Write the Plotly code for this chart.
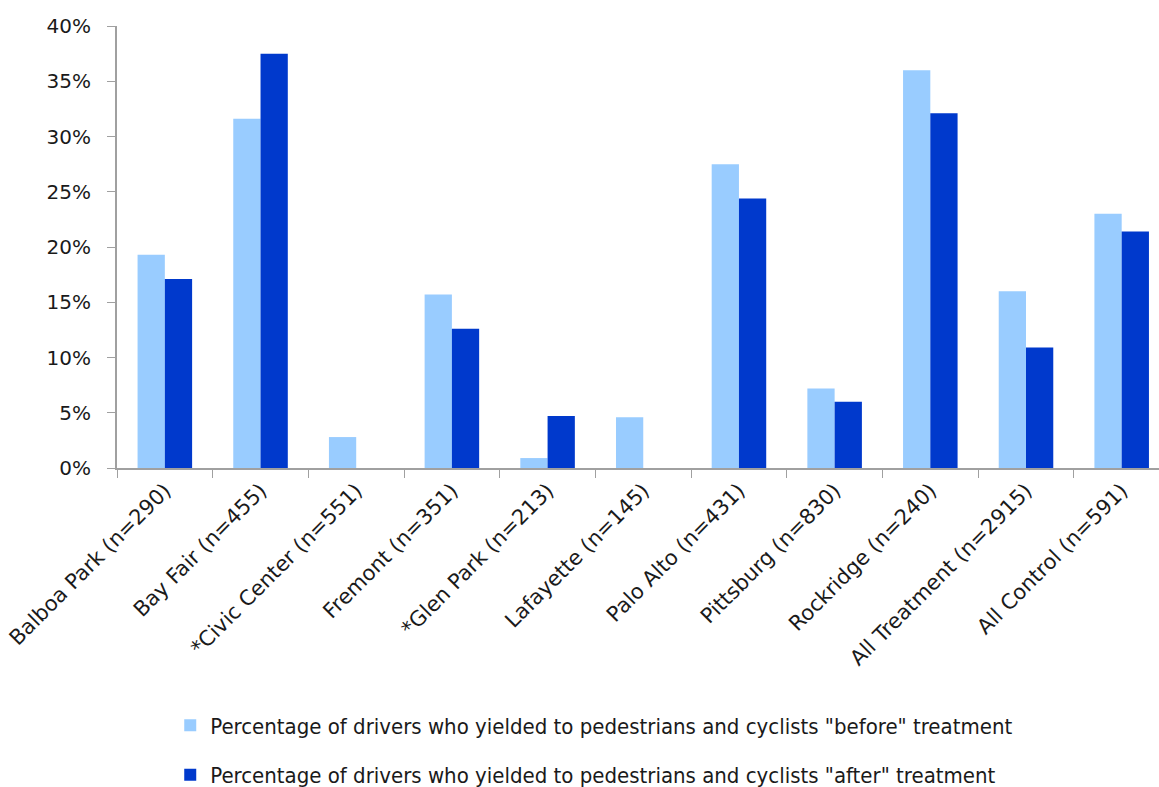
import plotly.graph_objects as go

stations = [
    "Balboa Park (n=290)", "Bay Fair (n=455)", "*Civic Center (n=551)",
    "Fremont (n=351)", "*Glen Park (n=213)", "Lafayette (n=145)",
    "Palo Alto (n=431)", "Pittsburg (n=830)", "Rockridge (n=240)",
    "All Treatment (n=2915)", "All Control (n=591)",
]
before = [0.193, 0.316, 0.028, 0.157, 0.009, 0.046, 0.275, 0.072, 0.360, 0.160, 0.230]
after = [0.171, 0.375, 0.0, 0.126, 0.047, 0.0, 0.244, 0.060, 0.321, 0.109, 0.214]
y_ticks = [0, 0.05, 0.10, 0.15, 0.20, 0.25, 0.30, 0.35, 0.40]

before_name = 'Percentage of drivers who yielded to pedestrians and cyclists "before" treatment'
after_name = 'Percentage of drivers who yielded to pedestrians and cyclists "after" treatment'

fig = go.Figure()
fig.add_trace(go.Bar(x=stations, y=before, name=before_name, legendgroup="b",
                     marker=dict(color="#99CCFF", line=dict(width=0))))
fig.add_trace(go.Bar(x=stations, y=after, name=after_name, legendgroup="a",
                     marker=dict(color="#0039CC", line=dict(width=0))))

axis_gray = "#A0A0A0"
narrow = "DejaVu Sans Condensed, Roboto Condensed, Liberation Sans Narrow, Roboto"
fig.update_layout(
    width=1159, height=787,
    margin=dict(l=117, r=0, t=26, b=319, autoexpand=False),
    paper_bgcolor="white", plot_bgcolor="white",
    barmode="group", bargap=0.43, bargroupgap=0,
    font=dict(family="DejaVu Sans", size=20, color="#1a1a1a"),
    showlegend=True,
    legend=dict(
        orientation="v", x=0.458, xanchor="center", y=-0.535, yanchor="top",
        font=dict(family=narrow, size=22, color="#1a1a1a"),
        tracegroupgap=18, itemwidth=30,
    ),
    xaxis=dict(
        range=[-0.5, 10.39], tickangle=-45, tickson="boundaries",
        ticks="outside", ticklen=8, tickcolor=axis_gray, automargin=False,
        showline=True, linecolor=axis_gray, linewidth=2, showgrid=False,
        tickfont=dict(family="DejaVu Sans", size=21),
    ),
    yaxis=dict(
        range=[0, 0.4], tickvals=y_ticks, tickformat=".0%",
        ticks="outside", ticklen=8, tickcolor=axis_gray, automargin=False,
        showline=True, linecolor=axis_gray, linewidth=2, showgrid=False,
        zeroline=False, tickfont=dict(family="DejaVu Sans", size=20),
        ticklabelstandoff=12,
    ),
)

fig.write_html("out.html")
